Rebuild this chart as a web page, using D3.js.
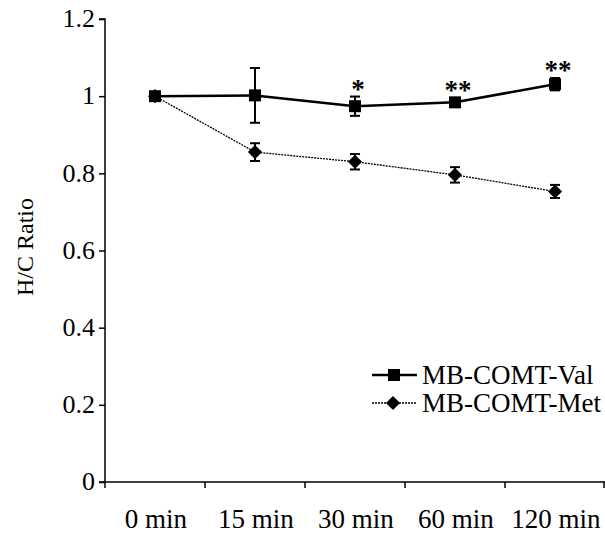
<!DOCTYPE html>
<html>
<head>
<meta charset="utf-8">
<script src="https://cdn.jsdelivr.net/npm/d3@7"></script>
<style>
  body { margin: 0; background: #fff; }
  text { font-family: "Liberation Serif", "Times New Roman", serif; fill: #000; }
</style>
</head>
<body>
<svg id="chart" width="605" height="534"></svg>
<script>
const categories = ['0 min', '15 min', '30 min', '60 min', '120 min'];
const valMean = [1.0, 1.002, 0.974, 0.984, 1.031];
const valErr = [0.008, 0.071, 0.025, 0.01, 0.016];
const metMean = [1.0, 0.855, 0.83, 0.796, 0.753];
const metErr = [0.008, 0.023, 0.02, 0.02, 0.017];
const stars = ['', '', '*', '**', '**'];
const yTicks = [0, 0.2, 0.4, 0.6, 0.8, 1, 1.2];

const svg = d3.select('#chart');
const mLeft = 105, mRight = 605, mTop = 19, mBottom = 482;

const x = d3.scaleBand()
  .domain(categories)
  .range([mLeft, mRight]);

const y = d3.scaleLinear()
  .domain([0, 1.2])
  .range([mBottom, mTop]);

const cx = d => x(d) + x.bandwidth() / 2;

// y axis
svg.append('g')
  .attr('transform', `translate(${mLeft},0)`)
  .call(d3.axisLeft(y).tickValues(yTicks).tickSize(6).tickPadding(4)
    .tickFormat(d => String(+d.toFixed(1))))
  .call(g => g.selectAll('path, line').attr('stroke', '#000').attr('stroke-width', 1.5))
  .call(g => g.select('.domain').attr('d', `M-6,${mTop}H0V${mBottom}H-6`))
  .call(g => g.selectAll('text').attr('font-size', 26).attr('font-family', 'Liberation Serif').attr('dy', '0.3em'));

// x axis
const xg = svg.append('g')
  .attr('transform', `translate(0,${mBottom})`);
xg.append('line')
  .attr('x1', mLeft).attr('x2', mRight)
  .attr('stroke', '#000').attr('stroke-width', 1.5);
xg.selectAll('line.tick')
  .data(categories.concat(['end']))
  .enter()
  .append('line')
    .attr('class', 'tick')
    .attr('x1', (d, i) => i < categories.length ? x(d) : mRight - 1)
    .attr('x2', (d, i) => i < categories.length ? x(d) : mRight - 1)
    .attr('y1', 0).attr('y2', 6)
    .attr('stroke', '#000').attr('stroke-width', 1.5);
xg.selectAll('text')
  .data(categories)
  .enter()
  .append('text')
    .attr('x', d => cx(d) + 1)
    .attr('y', 46)
    .attr('text-anchor', 'middle')
    .attr('font-size', 27)
    .text(d => d);

// y label
svg.append('text')
  .attr('transform', 'translate(33,247) rotate(-90)')
  .attr('text-anchor', 'middle')
  .attr('font-size', 24)
  .text('H/C Ratio');

function drawSeries(mean, err, dashed, diamond) {
  const line = d3.line()
    .x((d, i) => cx(categories[i]))
    .y(d => y(d));
  svg.append('path')
    .datum(mean)
    .attr('d', line)
    .attr('fill', 'none')
    .attr('stroke', '#000')
    .attr('stroke-width', dashed ? 1.3 : 2.5)
    .attr('stroke-dasharray', dashed ? '2,1' : null);

  const eb = svg.append('g');
  mean.forEach((m, i) => {
    const px = cx(categories[i]);
    eb.append('line')
      .attr('x1', px).attr('x2', px)
      .attr('y1', y(m + err[i])).attr('y2', y(m - err[i]))
      .attr('stroke', '#000').attr('stroke-width', 2);
    [m + err[i], m - err[i]].forEach(v => {
      eb.append('line')
        .attr('x1', px - 5).attr('x2', px + 5)
        .attr('y1', y(v)).attr('y2', y(v))
        .attr('stroke', '#000').attr('stroke-width', 2);
    });
  });

  svg.append('g').selectAll('path')
    .data(mean)
    .enter()
    .append('path')
      .attr('transform', (d, i) => `translate(${cx(categories[i])},${y(d)})` + (diamond ? ' rotate(45)' : ''))
      .attr('d', diamond ? 'M-5,-5H5V5H-5Z' : 'M-6,-6H6V6H-6Z')
      .attr('fill', '#000');
}

drawSeries(metMean, metErr, true, true);
drawSeries(valMean, valErr, false, false);

// significance stars
svg.append('g').selectAll('text')
  .data(stars)
  .enter()
  .append('text')
    .attr('x', (d, i) => cx(categories[i]) + 3)
    .attr('y', (d, i) => y(valMean[i] + valErr[i]) + 1)
    .attr('text-anchor', 'middle')
    .attr('font-size', 27)
    .attr('font-weight', 'bold')
    .text(d => d);

// legend
const legend = svg.append('g').attr('transform', 'translate(372,375)');
legend.append('line')
  .attr('x1', 0).attr('x2', 45)
  .attr('stroke', '#000').attr('stroke-width', 2.5);
legend.append('rect')
  .attr('x', 16).attr('y', -6).attr('width', 12).attr('height', 12)
  .attr('fill', '#000');
legend.append('text')
  .attr('x', 50).attr('y', 0).attr('dy', '0.35em')
  .attr('font-size', 27)
  .text('MB-COMT-Val');

legend.append('line')
  .attr('x1', 0).attr('x2', 45)
  .attr('y1', 28).attr('y2', 28)
  .attr('stroke', '#000').attr('stroke-width', 1.3)
  .attr('stroke-dasharray', '2,1');
legend.append('path')
  .attr('transform', 'translate(21,28) rotate(45)')
  .attr('d', 'M-5,-5H5V5H-5Z')
  .attr('fill', '#000');
legend.append('text')
  .attr('x', 50).attr('y', 28).attr('dy', '0.35em')
  .attr('font-size', 27)
  .text('MB-COMT-Met');
</script>
</body>
</html>
